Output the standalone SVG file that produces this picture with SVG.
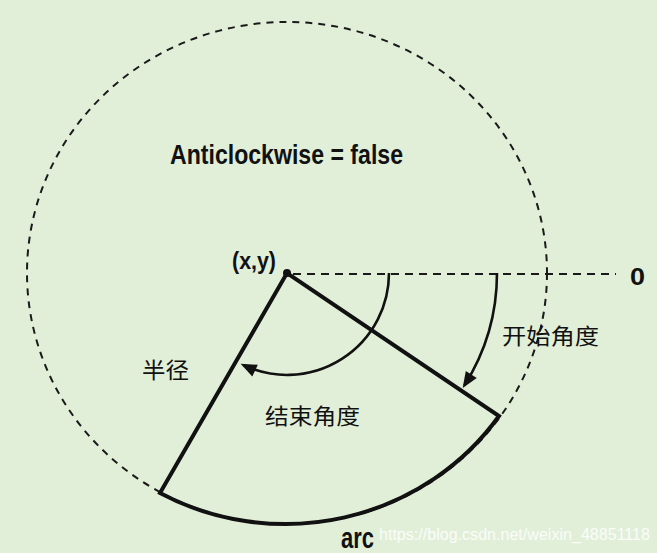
<svg xmlns="http://www.w3.org/2000/svg" width="657" height="553" viewBox="0 0 657 553">
  <style>
    .lbl { font-family: "Liberation Sans", Arial, sans-serif; font-weight: bold; fill: #111; }
    .cjk { font-family: "Noto Sans CJK SC", "Noto Sans CJK TC", sans-serif; fill: #111; font-size: 22px; }
    .dash { fill: none; stroke: #1a1a1a; stroke-width: 2; }
    .arrow { fill: none; stroke: #111; stroke-width: 2.6; }
  </style>
  <defs>
    <marker id="ah" markerUnits="userSpaceOnUse" markerWidth="30" markerHeight="30" refX="0" refY="0" orient="auto" style="overflow:visible">
      <path d="M-13,-6.5 L3,0 L-13,6.5 Z" fill="#111"/>
    </marker>
  </defs>
  <rect width="657" height="553" fill="#e1efd9"/>

  <g id="circle">
    <ellipse class="dash" cx="287" cy="273" rx="260" ry="251" stroke-dasharray="7 6"/>
  </g>

  <g id="connectors">
    <line id="zero-line" class="dash" x1="293" y1="274" x2="616" y2="274" stroke-dasharray="8 6"/>
    <path id="start-angle" class="arrow" d="M497,273 A210,210 0 0 1 464.3,385.5" marker-end="url(#ah)"/>
    <path id="end-angle" class="arrow" d="M389,273 A102,102 0 0 1 243.3,365.1" marker-end="url(#ah)"/>
  </g>

  <g id="sector">
    <path d="M160,493 L287,273 L499,416 A260,251 0 0 1 160,493 Z" fill="none" stroke="#111" stroke-width="4" stroke-linejoin="miter"/>
  </g>

  <g id="center">
    <circle cx="287" cy="273" r="4" fill="#111"/>
    <text class="lbl" x="232" y="269" font-size="23" textLength="44" lengthAdjust="spacingAndGlyphs">(x,y)</text>
  </g>

  <g id="title">
    <text class="lbl" x="170" y="164" font-size="28" textLength="233" lengthAdjust="spacingAndGlyphs">Anticlockwise = false</text>
  </g>

  <g id="zero">
    <text class="lbl" x="630" y="285" font-size="24" textLength="15" lengthAdjust="spacingAndGlyphs">0</text>
  </g>

  <g id="start-label">
    <text class="cjk" x="502" y="344" textLength="97" lengthAdjust="spacingAndGlyphs">开始角度</text>
  </g>

  <g id="radius-label">
    <text class="cjk" x="142" y="378" textLength="47" lengthAdjust="spacingAndGlyphs">半径</text>
  </g>

  <g id="end-label">
    <text class="cjk" x="265" y="424" textLength="95" lengthAdjust="spacingAndGlyphs">结束角度</text>
  </g>

  <g id="arc-label">
    <text class="lbl" x="341" y="548" font-size="29" textLength="33" lengthAdjust="spacingAndGlyphs">arc</text>
  </g>

  <g id="watermark">
    <text x="379" y="540" font-family="Liberation Sans, Arial, sans-serif" font-size="16" fill="#ffffff" fill-opacity="0.85" textLength="271" lengthAdjust="spacingAndGlyphs">https://blog.csdn.net/weixin_48851118</text>
  </g>
</svg>
